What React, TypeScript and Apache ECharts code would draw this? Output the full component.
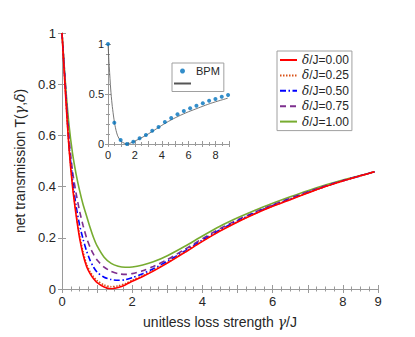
import React, { useEffect, useRef } from 'react';
import * as echarts from 'echarts';

// loss strength grid (gamma/J)
const gamma = [0, 0.1, 0.2, 0.3, 0.4, 0.5, 0.6, 0.7, 0.8, 0.9, 1.0, 1.2, 1.4, 1.6, 1.8, 2.0, 2.3, 2.6, 3.0, 3.5, 4.0, 4.5, 5.0, 5.5, 6.0, 6.5, 7.0, 7.5, 8.0, 8.5, 8.9];

// net transmission for each detuning
const tDelta000 = [1.0, 0.76, 0.55, 0.40, 0.29, 0.20, 0.135, 0.088, 0.06, 0.04, 0.025, 0.008, 0.001, 0.006, 0.016, 0.030, 0.049, 0.070, 0.101, 0.143, 0.186, 0.226, 0.262, 0.294, 0.323, 0.349, 0.375, 0.400, 0.422, 0.442, 0.458];
const tDelta025 = [1.0, 0.77, 0.555, 0.41, 0.30, 0.21, 0.145, 0.097, 0.068, 0.048, 0.033, 0.016, 0.009, 0.012, 0.021, 0.034, 0.052, 0.073, 0.103, 0.145, 0.188, 0.228, 0.263, 0.295, 0.324, 0.350, 0.376, 0.400, 0.422, 0.442, 0.458];
const tDelta050 = [1.0, 0.78, 0.565, 0.43, 0.325, 0.25, 0.195, 0.148, 0.112, 0.085, 0.066, 0.046, 0.037, 0.034, 0.036, 0.044, 0.060, 0.079, 0.108, 0.149, 0.191, 0.231, 0.266, 0.298, 0.326, 0.352, 0.377, 0.401, 0.423, 0.442, 0.458];
const tDelta075 = [1.0, 0.79, 0.59, 0.46, 0.375, 0.305, 0.248, 0.20, 0.163, 0.135, 0.113, 0.085, 0.069, 0.06, 0.057, 0.060, 0.071, 0.088, 0.115, 0.155, 0.197, 0.236, 0.270, 0.301, 0.329, 0.355, 0.380, 0.403, 0.424, 0.443, 0.458];
const tDelta100 = [1.0, 0.80, 0.64, 0.53, 0.45, 0.385, 0.33, 0.285, 0.24, 0.20, 0.168, 0.124, 0.10, 0.089, 0.085, 0.086, 0.094, 0.106, 0.130, 0.167, 0.207, 0.245, 0.278, 0.308, 0.335, 0.360, 0.384, 0.406, 0.426, 0.443, 0.458];

const deltaLabels = ['δ/J=0.00', 'δ/J=0.25', 'δ/J=0.50', 'δ/J=0.75', 'δ/J=1.00'];

// inset: BPM simulation points
const bpmGamma = [0, 0.47, 0.94, 1.41, 1.88, 2.35, 2.82, 3.29, 3.76, 4.23, 4.7, 5.17, 5.64, 6.11, 6.58, 7.05, 7.52, 7.99, 8.46, 8.93];
const bpmT = [1.0, 0.213, 0.04, 0.0, 0.023, 0.057, 0.09, 0.133, 0.17, 0.22, 0.26, 0.297, 0.33, 0.357, 0.383, 0.407, 0.433, 0.45, 0.473, 0.49];

const mainXLabels = [0, 2, 4, 6, 8, 9];
const insetXLabels = [0, 2, 4, 6, 8];

const FONT = 'Liberation Sans, Arial, Helvetica, sans-serif';
const TXT = '#262626';
const AX = '#9a9a9a';

const pairs = (xs: number[], ys: number[]) => xs.map((x, i) => [x, ys[i]]);

export default function App() {
  const ref = useRef<HTMLDivElement>(null);
  useEffect(() => {
    if (!ref.current) return;
    const chart = echarts.init(ref.current, undefined, { renderer: 'svg' });

    const axisLineStyle = { show: true, lineStyle: { color: AX, width: 1 } };
    const tickIn = (len: number) => ({ show: true, inside: true, length: len, lineStyle: { color: AX, width: 1 } });
    const minorIn = (n: number, len: number) => ({ show: true, splitNumber: n, length: len, lineStyle: { color: AX, width: 1 } });

    const series: any[] = [];
    const styles = [
      { color: '#ff0000', type: 'solid' as any },
      { color: '#d95319', type: [1.5, 1.5] },
      { color: '#0000ff', type: [6, 2.5, 1.5, 2.5] },
      { color: '#7e2f8e', type: [6, 4] },
      { color: '#77ac30', type: 'solid' as any },
    ];
    const curves = [tDelta000, tDelta025, tDelta050, tDelta075, tDelta100];
    curves.forEach((c, k) => {
      series.push({
        type: 'line',
        name: deltaLabels[k],
        xAxisIndex: 0,
        yAxisIndex: 0,
        data: pairs(gamma, c),
        symbol: 'none',
        smooth: 0.25,
        color: styles[k].color,
        lineStyle: { color: styles[k].color, width: 1.6, type: styles[k].type },
        z: 2 + (4 - k),
      });
    });
    series.push({
      type: 'line',
      name: ' ',
      xAxisIndex: 2,
      yAxisIndex: 2,
      data: pairs(gamma, tDelta000),
      symbol: 'none',
      smooth: 0.25,
      color: '#555555',
      lineStyle: { color: '#555555', width: 0.8 },
      z: 11,
    });
    series.push({
      type: 'scatter',
      name: 'BPM',
      xAxisIndex: 2,
      yAxisIndex: 2,
      data: pairs(bpmGamma, bpmT),
      symbol: 'circle',
      symbolSize: 4,
      color: '#0072bd',
      itemStyle: { color: '#0072bd' },
      z: 12,
    });

    const italic = { fontStyle: 'italic', fontFamily: 'DejaVu Serif, serif', color: TXT };

    chart.setOption({
      animation: false,
      backgroundColor: '#ffffff',
      textStyle: { fontFamily: FONT },
      grid: [
        { left: 62, top: 33, width: 316, height: 256, show: false },
        { left: 108, top: 44, width: 121, height: 100, show: true, backgroundColor: '#ffffff', borderWidth: 0, z: 9 },
      ],
      xAxis: [
        {
          type: 'value', gridIndex: 0, position: 'bottom', min: 0, max: 9, interval: 1,
          axisLine: axisLineStyle, axisTick: tickIn(4), minorTick: minorIn(4, 2.5), splitLine: { show: false },
          axisLabel: {
            fontSize: 13, color: TXT, margin: 6, fontFamily: FONT,
            formatter: (v: number) => (mainXLabels.includes(v) ? String(v) : ''),
          },
          name: 'unitless loss strength {i|γ}/J', nameLocation: 'middle', nameGap: 26,
          nameTextStyle: { fontSize: 14, color: TXT, fontFamily: FONT, rich: { i: { ...italic, fontSize: 14 } } },
          z: 3,
        },
        {
          type: 'value', gridIndex: 0, position: 'top', min: 0, max: 9, interval: 1,
          axisLine: axisLineStyle, axisTick: tickIn(4), minorTick: minorIn(4, 2.5), splitLine: { show: false },
          axisLabel: { show: false }, z: 3,
        },
        {
          type: 'value', gridIndex: 1, position: 'bottom', min: 0, max: 9, interval: 1,
          axisLine: axisLineStyle, axisTick: tickIn(3), minorTick: minorIn(2, 2), splitLine: { show: false },
          axisLabel: {
            fontSize: 11, color: TXT, margin: 5, fontFamily: FONT,
            formatter: (v: number) => (insetXLabels.includes(v) ? String(v) : ''),
          },
          z: 10,
        },
        {
          type: 'value', gridIndex: 1, position: 'top', min: 0, max: 9, interval: 1,
          axisLine: axisLineStyle, axisTick: tickIn(3), minorTick: minorIn(2, 2), splitLine: { show: false },
          axisLabel: { show: false }, z: 10,
        },
      ],
      yAxis: [
        {
          type: 'value', gridIndex: 0, position: 'left', min: 0, max: 1, interval: 0.2,
          axisLine: axisLineStyle, axisTick: tickIn(4), splitLine: { show: false },
          axisLabel: { fontSize: 13, color: TXT, margin: 6, fontFamily: FONT },
          name: 'net transmission T({i|γ},{i|δ})', nameLocation: 'middle', nameGap: 27,
          nameTextStyle: { fontSize: 14, color: TXT, fontFamily: FONT, rich: { i: { ...italic, fontSize: 14 } } },
          z: 3,
        },
        {
          type: 'value', gridIndex: 0, position: 'right', min: 0, max: 1, interval: 0.2,
          axisLine: axisLineStyle, axisTick: tickIn(4), splitLine: { show: false },
          axisLabel: { show: false }, z: 3,
        },
        {
          type: 'value', gridIndex: 1, position: 'left', min: 0, max: 1, interval: 0.5,
          axisLine: axisLineStyle, axisTick: tickIn(3), minorTick: minorIn(5, 2), splitLine: { show: false },
          axisLabel: { fontSize: 11, color: TXT, margin: 4, fontFamily: FONT },
          z: 10,
        },
        {
          type: 'value', gridIndex: 1, position: 'right', min: 0, max: 1, interval: 0.5,
          axisLine: axisLineStyle, axisTick: tickIn(3), minorTick: minorIn(5, 2), splitLine: { show: false },
          axisLabel: { show: false }, z: 10,
        },
      ],
      legend: [
        {
          data: deltaLabels.map((n) => ({ name: n, itemStyle: { opacity: 0 } })),
          orient: 'vertical',
          left: 277,
          top: 51,
          padding: [2, 3, 2, 2],
          itemWidth: 17,
          itemHeight: 10,
          itemGap: 1.4,
          backgroundColor: '#ffffff',
          borderColor: '#a0a0a0',
          borderWidth: 1,
          borderRadius: 0,
          selectedMode: false,
          formatter: (name: string) => '{i|δ}' + name.slice(1),
          textStyle: {
            fontSize: 12, lineHeight: 14, color: TXT, fontFamily: FONT,
            rich: { i: { ...italic, fontSize: 12, lineHeight: 14 } },
          },
          z: 20,
        },
        {
          data: [{ name: 'BPM' }, { name: ' ', itemStyle: { opacity: 0 } }],
          orient: 'vertical',
          left: 172,
          top: 63,
          padding: [2, 4, 2, 1],
          itemWidth: 17,
          itemHeight: 5,
          itemGap: 0.5,
          backgroundColor: '#ffffff',
          borderColor: '#a0a0a0',
          borderWidth: 1,
          borderRadius: 0,
          selectedMode: false,
          textStyle: { fontSize: 11, lineHeight: 12, color: TXT, fontFamily: FONT },
          z: 20,
        },
      ],
      series,
    });
    return () => chart.dispose();
  }, []);
  return <div ref={ref} style={{ position: 'absolute', left: 0, top: 0, width: 415, height: 337 }} />;
}
